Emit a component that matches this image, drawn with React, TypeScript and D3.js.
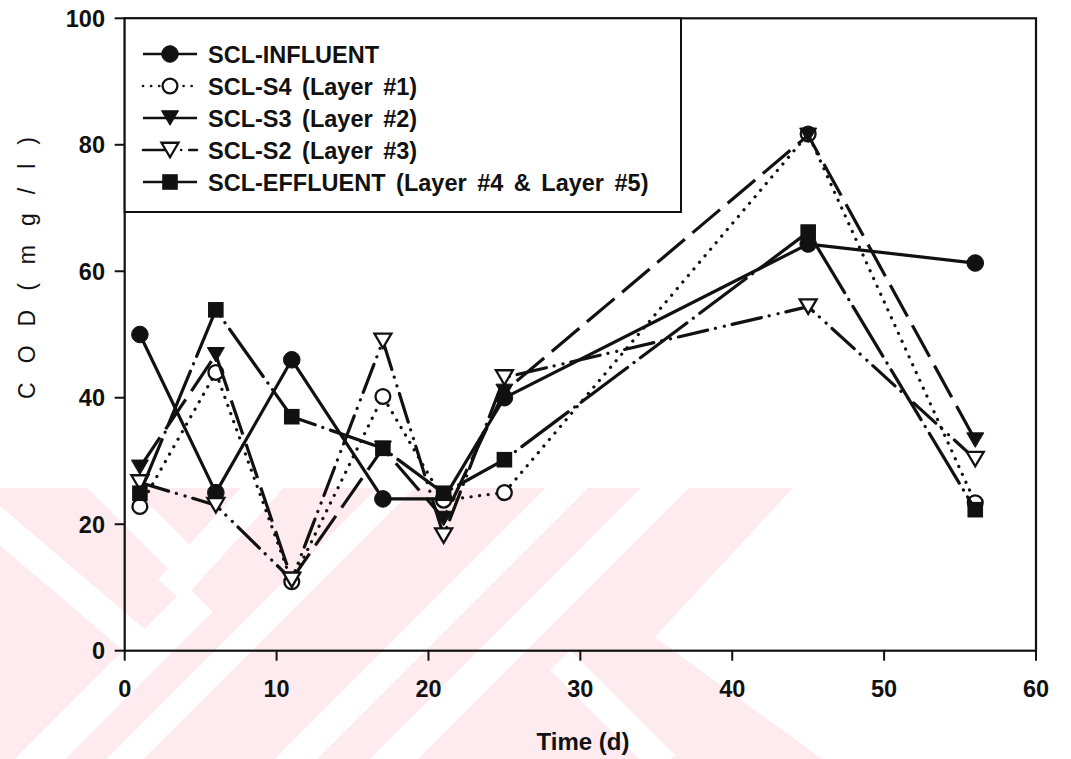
import React from "react";
import * as d3 from "d3";

// Sampling days (d) and COD concentrations (mg/l) per sampling point
const days = [1, 6, 11, 17, 21, 25, 45, 56];
const influent = [50, 25, 46, 24, 24, 40, 64.3, 61.3];
const s4Layer1 = [22.8, 44, 10.9, 40.2, 23.8, 25, 81.7, 23.4];
const s3Layer2 = [29, 46.8, 11.3, 32, 20.9, 41, 81.5, 33.3];
const s2Layer3 = [26.6, 23, 11.2, 49, 18.2, 43.2, 54.4, 30.3];
const effluent = [24.9, 53.9, 37, 32, 24.9, 30.2, 66.2, 22.3];

const seriesNames = [
  "SCL-INFLUENT",
  "SCL-S4 (Layer #1)",
  "SCL-S3 (Layer #2)",
  "SCL-S2 (Layer #3)",
  "SCL-EFFLUENT (Layer #4 & Layer #5)",
];

const xTicks = [0, 10, 20, 30, 40, 50, 60];
const yTicks = [0, 20, 40, 60, 80, 100];

type Marker = "circleFilled" | "circleOpen" | "triDownFilled" | "triDownOpen" | "squareFilled";

const styles: { marker: Marker; dash: string | null; legendDash: string | null }[] = [
  { marker: "circleFilled", dash: null, legendDash: null },
  { marker: "circleOpen", dash: "0.1,8.5", legendDash: "0.1,8" },
  { marker: "triDownFilled", dash: "36,10", legendDash: null },
  { marker: "triDownOpen", dash: "30,8,0.1,9,0.1,8", legendDash: "22,8,0.1,8,0.1,8" },
  { marker: "squareFilled", dash: "58,8,0.1,8", legendDash: "20,4,60" },
];

const seriesValues = [influent, s4Layer1, s3Layer2, s2Layer3, effluent];

const W = 1071;
const H = 759;
const FONT = "'Liberation Sans', Arial, Helvetica, sans-serif";

const x = d3.scaleLinear().domain([0, 60]).range([124.7, 1036]);
const y = d3.scaleLinear().domain([0, 100]).range([650.7, 18.3]);

function MarkerShape({ kind, cx, cy }: { kind: Marker; cx: number; cy: number }) {
  const r = 8.3;
  switch (kind) {
    case "circleFilled":
      return <circle cx={cx} cy={cy} r={r} fill="#111" stroke="#111" strokeWidth={1} />;
    case "circleOpen":
      return <circle cx={cx} cy={cy} r={7.4} fill="#fff" stroke="#111" strokeWidth={2.3} />;
    case "triDownFilled":
    case "triDownOpen": {
      const hw = 8.5;
      const h = 14.5;
      const p = `M${cx - hw},${cy - h / 2}L${cx + hw},${cy - h / 2}L${cx},${cy + h / 2}Z`;
      return kind === "triDownFilled" ? (
        <path d={p} fill="#111" stroke="#111" strokeWidth={1} strokeLinejoin="round" />
      ) : (
        <path d={p} fill="#fff" stroke="#111" strokeWidth={2.3} strokeLinejoin="miter" />
      );
    }
    case "squareFilled":
      return <rect x={cx - 7.8} y={cy - 7.8} width={15.6} height={15.6} fill="#111" />;
  }
}

// Faint background watermark bands
const wmPink = "#fdebef";
const wmWhiteBands: [number, number, number, number, number][] = [
  // x1, y1, x2, y2, width
  [20, 779, 200, 599, 36],
  [105, 779, 416, 468, 26],
  [276, 779, 587, 468, 30],
  [374, 779, 685, 468, 34],
  [92, 470, 200, 578, 32],
  [170, 590, 282, 466, 32],
  [-30, 500, 140, 645, 30],
  [560, 660, 665, 765, 28],
];

export default function App() {
  const line = d3
    .line<number>()
    .x((_, i) => x(days[i]))
    .y((v) => y(v));

  const legendTop = 54;
  const legendStep = 32;

  return (
    <svg
      width={W}
      height={H}
      viewBox={`0 0 ${W} ${H}`}
      style={{ position: "absolute", left: 0, top: 0, background: "#fff" }}
      fontFamily={FONT}
    >
      <defs>
        <clipPath id="wm-clip">
          <polygon points="0,488 793,488 655,637 822,759 0,759" />
        </clipPath>
      </defs>

      {/* watermark */}
      <g clipPath="url(#wm-clip)">
        <rect x={0} y={488} width={830} height={271} fill={wmPink} />
        {wmWhiteBands.map(([x1, y1, x2, y2, w], i) => (
          <line key={i} x1={x1} y1={y1} x2={x2} y2={y2} stroke="#fff" strokeWidth={w} />
        ))}
      </g>

      {/* series lines */}
      {seriesValues.map((vals, si) => (
        <g key={si}>
          <path
            d={line(vals) || ""}
            fill="none"
            stroke="#111"
            strokeWidth={3.2}
            strokeDasharray={styles[si].dash || undefined}
            strokeLinecap={styles[si].dash && styles[si].dash!.includes("0.1") ? "round" : "butt"}
            strokeLinejoin="round"
          />
          {vals.map((v, i) => (
            <MarkerShape key={i} kind={styles[si].marker} cx={x(days[i])} cy={y(v)} />
          ))}
        </g>
      ))}

      {/* frame */}
      <rect
        x={x(0)}
        y={y(100)}
        width={x(60) - x(0)}
        height={y(0) - y(100)}
        fill="none"
        stroke="#111"
        strokeWidth={2.2}
      />

      {/* x ticks */}
      {xTicks.map((t) => (
        <g key={t}>
          <line x1={x(t)} x2={x(t)} y1={y(0)} y2={y(0) + 10} stroke="#111" strokeWidth={2} />
          <text x={x(t)} y={697} textAnchor="middle" fontSize={23.5} fontWeight="bold" fill="#111">
            {t}
          </text>
        </g>
      ))}

      {/* y ticks */}
      {yTicks.map((t) => (
        <g key={t}>
          <line x1={x(0) - 10} x2={x(0)} y1={y(t)} y2={y(t)} stroke="#111" strokeWidth={2} />
          <text x={105} y={y(t) + 8.5} textAnchor="end" fontSize={23.5} fontWeight="bold" fill="#111">
            {t}
          </text>
        </g>
      ))}

      {/* axis titles */}
      <text x={583} y={750} textAnchor="middle" fontSize={24} fontWeight="bold" fill="#111">
        Time (d)
      </text>
      <text
        transform="translate(35,268) rotate(-90)"
        textAnchor="middle"
        fontSize={23}
        fill="#111"
        textLength={262}
        lengthAdjust="spacing"
      >
        C O D ( m g / l )
      </text>

      {/* legend */}
      <rect
        x={x(0)}
        y={y(100)}
        width={681 - x(0)}
        height={212 - y(100)}
        fill="#fff"
        stroke="#111"
        strokeWidth={2}
      />
      {seriesNames.map((name, i) => {
        const cy = legendTop + i * legendStep;
        const st = styles[i];
        return (
          <g key={name}>
            <line
              x1={143}
              x2={197}
              y1={cy}
              y2={cy}
              stroke="#111"
              strokeWidth={2.6}
              strokeDasharray={st.legendDash || undefined}
              strokeLinecap={st.legendDash && st.legendDash.includes("0.1") ? "round" : "butt"}
            />
            <MarkerShape kind={st.marker} cx={170} cy={cy} />
            <text x={208} y={cy + 9} fontSize={23.5} fontWeight="bold" wordSpacing={4} fill="#111">
              {name}
            </text>
          </g>
        );
      })}
    </svg>
  );
}
